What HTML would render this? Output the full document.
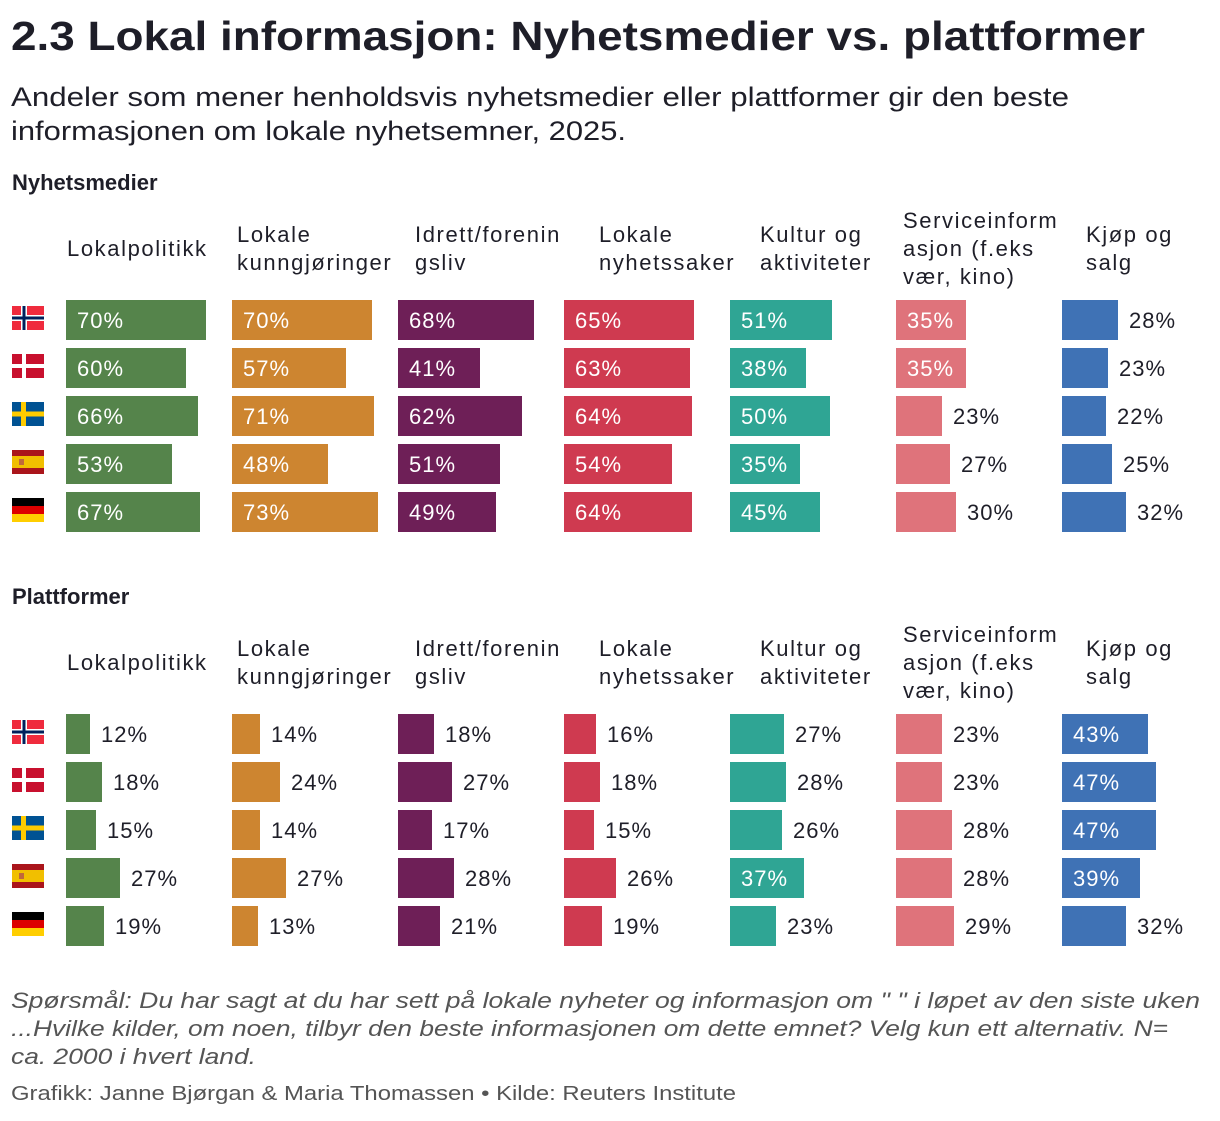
<!DOCTYPE html>
<html><head><meta charset="utf-8"><style>
body{margin:0;background:#fff;width:1220px;height:1116px;overflow:hidden;font-family:"Liberation Sans",sans-serif;color:#1e1e28}
</style></head><body>
<svg id="c" width="1220" height="1116" xmlns="http://www.w3.org/2000/svg" font-family="Liberation Sans, sans-serif">
<text x="11" y="50" font-size="41" font-weight="bold" fill="#1e1e28" textLength="1134" lengthAdjust="spacingAndGlyphs">2.3 Lokal informasjon: Nyhetsmedier vs. plattformer</text>
<text x="11" y="106" font-size="27" fill="#1e1e28" textLength="1058" lengthAdjust="spacingAndGlyphs">Andeler som mener henholdsvis nyhetsmedier eller plattformer gir den beste</text>
<text x="11" y="140" font-size="27" fill="#1e1e28" textLength="615" lengthAdjust="spacingAndGlyphs">informasjonen om lokale nyhetsemner, 2025.</text>
<text x="11" y="1008" font-size="22" font-style="italic" fill="#555" textLength="1189" lengthAdjust="spacingAndGlyphs">Spørsmål: Du har sagt at du har sett på lokale nyheter og informasjon om " " i løpet av den siste uken</text>
<text x="11" y="1036" font-size="22" font-style="italic" fill="#555" textLength="1157" lengthAdjust="spacingAndGlyphs">...Hvilke kilder, om noen, tilbyr den beste informasjonen om dette emnet? Velg kun ett alternativ. N=</text>
<text x="11" y="1064" font-size="22" font-style="italic" fill="#555" textLength="245" lengthAdjust="spacingAndGlyphs">ca. 2000 i hvert land.</text>
<text x="11" y="1100" font-size="20" fill="#555" textLength="725" lengthAdjust="spacingAndGlyphs">Grafikk: Janne Bjørgan &amp; Maria Thomassen • Kilde: Reuters Institute</text>
</svg>
<script>
const categories=[["Lokalpolitikk"],["Lokale","kunngjøringer"],["Idrett/forenin","gsliv"],["Lokale","nyhetssaker"],["Kultur og","aktiviteter"],["Serviceinform","asjon (f.eks","vær, kino)"],["Kjøp og","salg"]];
const countries=["no","dk","se","es","de"];
const colors=["#55844b","#cd8530","#6e1f57","#cf3a50","#2fa594","#df737b","#3f72b5"];
const nyhetsmedier=[[70,60,66,53,67],[70,57,71,48,73],[68,41,62,51,49],[65,63,64,54,64],[51,38,50,35,45],[35,35,23,27,30],[28,23,22,25,32]];
const plattformer=[[12,18,15,27,19],[14,24,14,27,13],[18,27,17,28,21],[16,18,15,26,19],[27,28,26,37,23],[23,23,28,28,29],[43,47,47,39,32]];
const sections=[{title:"Nyhetsmedier",data:nyhetsmedier,top:0},{title:"Plattformer",data:plattformer,top:414}];
const headerLayout=[67,237,415,599,760,903,1086];
const svg=document.getElementById('c');
const NS="http://www.w3.org/2000/svg";
function mk(t,a){const e=document.createElementNS(NS,t);for(const k in a)e.setAttribute(k,a[k]);svg.appendChild(e);return e;}
const colX=i=>66+i*166, xs=v=>v*2, rowY=(r,top)=>300+top+r*48;
function flag(c,y){
  const x=12,w=32,h=24;
  if(c==="no"){mk('rect',{x,y,width:w,height:h,fill:'#ef2b3d'});mk('rect',{x:x+9,y,width:6,height:h,fill:'#fff'});mk('rect',{x,y:y+9,width:w,height:6,fill:'#fff'});mk('rect',{x:x+10.5,y,width:3,height:h,fill:'#00205b'});mk('rect',{x,y:y+10.5,width:w,height:3,fill:'#00205b'});}
  else if(c==="dk"){mk('rect',{x,y,width:w,height:h,fill:'#c8102e'});mk('rect',{x:x+10,y,width:4,height:h,fill:'#fff'});mk('rect',{x,y:y+10,width:w,height:4,fill:'#fff'});}
  else if(c==="se"){mk('rect',{x,y,width:w,height:h,fill:'#005293'});mk('rect',{x:x+9,y,width:5,height:h,fill:'#fecb00'});mk('rect',{x,y:y+9.5,width:w,height:5,fill:'#fecb00'});}
  else if(c==="es"){mk('rect',{x,y,width:w,height:h,fill:'#aa151b'});mk('rect',{x,y:y+6,width:w,height:12,fill:'#f1bf00'});mk('rect',{x:x+7,y:y+9,width:5,height:6,fill:'#c0683b'});}
  else {mk('rect',{x,y,width:w,height:8,fill:'#000'});mk('rect',{x,y:y+8,width:w,height:8,fill:'#dd0000'});mk('rect',{x,y:y+16,width:w,height:8,fill:'#ffce00'});}
}
sections.forEach((s,si)=>{
  const t=mk('text',{x:12,y:190+s.top,'font-size':22,'font-weight':'bold',fill:'#1e1e28'});t.textContent=s.title;
  
  
  categories.forEach((lines,ci)=>{
    const n=lines.length, cy=248+s.top;
    lines.forEach((ln,li)=>{
      const e=mk('text',{x:headerLayout[ci],y:cy+(li-(n-1)/2)*28+8,'font-size':22,fill:'#1e1e28','letter-spacing':'1.6'});e.textContent=ln;
      
      
    });
  });
  countries.forEach((c,r)=>{flag(c,rowY(r,s.top)+6);});
  s.data.forEach((vals,ci)=>{
    vals.forEach((v,r)=>{
      const y=rowY(r,s.top),x=colX(ci),w=xs(v);
      const b=mk('rect',{x,y,width:w,height:40,fill:colors[ci]});
      
      
      const inside=v>=33;
      const l=mk('text',{x:inside?x+11:x+w+11,y:y+28,'font-size':22,fill:inside?'#fff':'#1e1e28','letter-spacing':'1'});l.textContent=v+'%';
      
      
    });
  });
});
</script>
</body></html>
